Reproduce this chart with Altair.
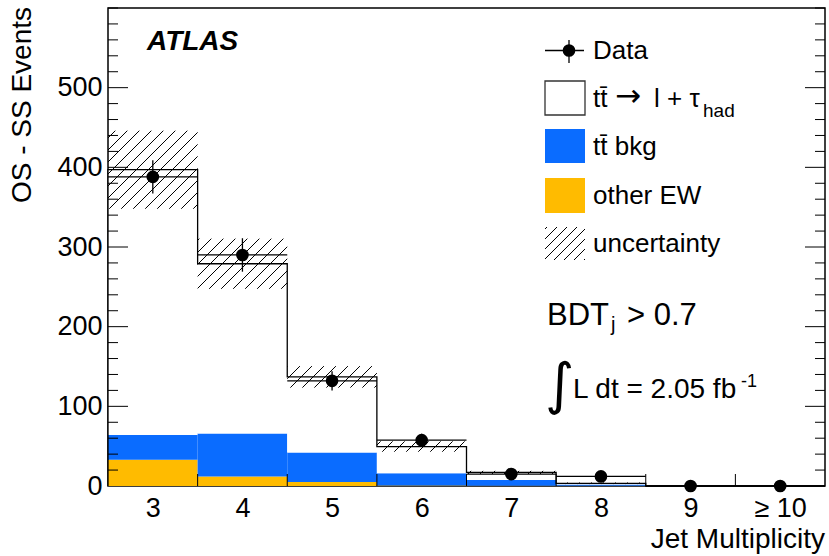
import altair as alt
import numpy as np
import pandas as pd

# ---------------- data ----------------
categories = ["3", "4", "5", "6", "7", "8", "9", "≥ 10"]
bin_centers = [3, 4, 5, 6, 7, 8, 9, 10]
other_ew = [33, 12, 5, 0.5, 0.3, 0.2, 0, 0]
ttbar_bkg = [31, 54, 37, 15.5, 7.2, 1.8, 0, 0]
ttbar_sig = [333, 213, 95, 33.5, 9.5, 1.4, 0, 0]
mc_unc = [49, 31.5, 13.5, 6.5, 2.0, 1.0, 0, 0]
data_val = [388, 290, 132, 57.5, 15, 12, 0, 0]
data_err = [21, 21, 12, 8, 4.5, 3.5, 0, 0]
y_major = [0, 100, 200, 300, 400, 500]

# ---------------- layout ----------------
W, H = 717, 478
XMIN, XMAX, YMAX = 2.5, 10.5, 600
SX = W / (XMAX - XMIN)
SY = H / YMAX
FONT = "Liberation Sans"
BLUE = "#0a6cff"
YELLOW = "#ffbb00"

xs = alt.Scale(domain=[XMIN, XMAX], nice=False, zero=False)
ys = alt.Scale(domain=[0, YMAX], nice=False, zero=False)

lo = [c - 0.5 for c in bin_centers]
hi = [c + 0.5 for c in bin_centers]
ew_top = list(other_ew)
bkg_top = [a + b for a, b in zip(other_ew, ttbar_bkg)]
tot = [a + b for a, b in zip(bkg_top, ttbar_sig)]

rows = []
for i in range(len(bin_centers)):
    rows.append(dict(lo=lo[i], hi=hi[i], y0=0, y1=ew_top[i], comp="ew"))
    rows.append(dict(lo=lo[i], hi=hi[i], y0=ew_top[i], y1=bkg_top[i], comp="bkg"))
    rows.append(dict(lo=lo[i], hi=hi[i], y0=bkg_top[i], y1=tot[i], comp="sig"))
bars_df = pd.DataFrame(rows)

# label expression built from categories
lab = "''"
for c, l in zip(bin_centers[::-1], categories[::-1]):
    lab = f"datum.value == {c} ? '{l}' : ({lab})"

XA = alt.Axis(values=bin_centers, labelExpr=lab, ticks=False, domain=False, grid=False,
              labelFontSize=27, labelFont=FONT, labelColor="black", labelPadding=9, title=None)
YA = alt.Axis(values=y_major, ticks=False, domain=False, grid=False, labelFontSize=27,
              labelFont=FONT, labelColor="black", labelPadding=6, title=None)


def X(f):
    return alt.X(f, scale=xs, axis=XA)


def Y(f):
    return alt.Y(f, scale=ys, axis=YA)


bars = alt.Chart(bars_df).mark_rect(strokeWidth=0).encode(
    x=X("lo:Q"), x2="hi:Q", y=Y("y0:Q"), y2="y1:Q",
    color=alt.Color("comp:N", scale=alt.Scale(domain=["ew", "bkg", "sig"],
                                              range=[YELLOW, BLUE, "white"]), legend=None),
)


# ---------------- hatching (uncertainty band) ----------------
def hatch_data(xlo, xhi, ylo, yhi, step=12.0):
    X0 = (xlo - XMIN) * SX
    X1 = (xhi - XMIN) * SX
    Y0 = ylo * SY
    Y1 = yhi * SY
    segs = []
    n0 = int(np.floor((Y0 - X1) / step))
    n1 = int(np.ceil((Y1 - X0) / step))
    for n in range(n0, n1 + 1):
        k = n * step
        a = max(X0, Y0 - k)
        b = min(X1, Y1 - k)
        if b - a > 0.4:
            segs.append(dict(x=a / SX + XMIN, y=(a + k) / SY, x2=b / SX + XMIN, y2=(b + k) / SY))
    return segs


hrows = []
for i in range(len(bin_centers)):
    if mc_unc[i] > 0:
        hrows += hatch_data(lo[i], hi[i], tot[i] - mc_unc[i], tot[i] + mc_unc[i])

# legend hatch box (pixel box inside plot) -> data coords
LX0, LX1, LY0, LY1 = 437, 477, 219, 252
hrows += hatch_data(LX0 / SX + XMIN, LX1 / SX + XMIN, (H - LY1) / SY, (H - LY0) / SY, step=10.0)
hatch_df = pd.DataFrame(hrows)

hatch = alt.Chart(hatch_df).mark_rule(color="black", strokeWidth=1).encode(
    x=X("x:Q"), y=Y("y:Q"), x2="x2:Q", y2="y2:Q")

# ---------------- stacked outline (step) ----------------
step_x = [XMIN] + lo + [XMAX]
step_y = [0] + tot + [tot[-1]]
step_df = pd.DataFrame(dict(x=step_x, y=step_y, o=list(range(len(step_x)))))
step = alt.Chart(step_df).mark_line(interpolate="step-after", color="black", strokeWidth=1.3).encode(
    x=X("x:Q"), y=Y("y:Q"), order="o:Q")

# ---------------- data points ----------------
ddf = pd.DataFrame(dict(c=bin_centers, lo=lo, hi=hi, v=data_val,
                        vlo=[v - e for v, e in zip(data_val, data_err)],
                        vhi=[v + e for v, e in zip(data_val, data_err)]))
d_h = alt.Chart(ddf).mark_rule(color="black", strokeWidth=1.3).encode(
    x=X("lo:Q"), x2="hi:Q", y=Y("v:Q"))
d_v = alt.Chart(ddf).mark_rule(color="black", strokeWidth=1.3).encode(
    x=X("c:Q"), y=Y("vlo:Q"), y2="vhi:Q")
d_p = alt.Chart(ddf).mark_circle(color="black", opacity=1, size=160).encode(
    x=X("c:Q"), y=Y("v:Q"))

# ---------------- ticks (inward, ROOT-like) ----------------
minor = [v for v in range(0, YMAX + 1, 20) if v not in y_major]
tk_major = pd.DataFrame(dict(v=y_major[1:]))
tk_minor = pd.DataFrame(dict(v=minor))
tk_x = pd.DataFrame(dict(e=lo[1:]))


def yticks(df, length):
    l = alt.Chart(df).mark_rule(color="black", strokeWidth=1).encode(
        y=Y("v:Q"), x=alt.value(0), x2=alt.value(length))
    r = alt.Chart(df).mark_rule(color="black", strokeWidth=1).encode(
        y=Y("v:Q"), x=alt.value(W), x2=alt.value(W - length))
    return [l, r]


xticks = alt.Chart(tk_x).mark_rule(color="black", strokeWidth=1).encode(
    x=X("e:Q"), y=alt.value(H), y2=alt.value(H - 12))

one = pd.DataFrame(dict(a=[0]))


def txt(s, x, y, size, font=FONT, align="left", baseline="alphabetic", **kw):
    return alt.Chart(one).mark_text(text=s, font=font, fontSize=size, color="black",
                                    align=align, baseline=baseline, **kw).encode(
        x=alt.value(x), y=alt.value(y))


def box(x0, x1, y0, y1, fill, stroke=None):
    kw = dict(fill=fill)
    if stroke:
        kw.update(stroke=stroke, strokeWidth=1.3)
    return alt.Chart(one).mark_rect(**kw).encode(
        x=alt.value(x0), x2=alt.value(x1), y=alt.value(y0), y2=alt.value(y1))


def vrule(x0, x1, y0, y1):
    return alt.Chart(one).mark_rule(color="black", strokeWidth=1.3).encode(
        x=alt.value(x0), x2=alt.value(x1), y=alt.value(y0), y2=alt.value(y1))


LF = 26
legend = [
    vrule(437, 476, 42.5, 42.5),
    vrule(461, 461, 32, 55),
    alt.Chart(one).mark_circle(color="black", opacity=1, size=160).encode(
        x=alt.value(461), y=alt.value(42.5)),
    txt("Data", 485, 51, LF),
    box(437, 477, 73, 107, "white", "#333333"),
    txt("tt\u0304", 485, 99, LF),
    txt("\u2192", 507, 98, 31, font="DejaVu Sans"),
    txt("l + \u03c4", 546, 99, LF),
    txt("had", 595, 109, 19),
    box(437, 477, 121, 155, BLUE),
    txt("tt\u0304 bkg", 485, 147, LF),
    box(437, 477, 170, 205, YELLOW),
    txt("other EW", 485, 196, LF),
    txt("uncertainty", 485, 244, LF),
]

labels = [
    txt("ATLAS", 39, 42, 28, fontWeight="bold", fontStyle="italic"),
    txt("BDT", 439, 317, 31),
    txt("j", 503, 323, 20),
    txt("> 0.7", 519, 317, 31),
    txt("\u222b", 437, 378, 56, font="DejaVu Sans", baseline="middle"),
    txt("L dt = 2.05 fb", 465, 390, 28),
    txt("-1", 633, 379, 18),
    txt("OS - SS Events", -85, -1, 28, angle=270, align="right", baseline="middle"),
    txt("Jet Multiplicity", W, 540, 28, align="right"),
]

layers = [bars, hatch, step, d_h, d_v, d_p] + yticks(tk_major, 20) + yticks(tk_minor, 10) + [xticks] + legend + labels

chart = alt.layer(*layers).properties(
    width=W, height=H, autosize="none",
    padding={"left": 108, "top": 8, "right": 4, "bottom": 70},
).configure_view(stroke="black", strokeWidth=1.5)

chart.save("out.html", embed_options={"renderer": "svg", "actions": False})
